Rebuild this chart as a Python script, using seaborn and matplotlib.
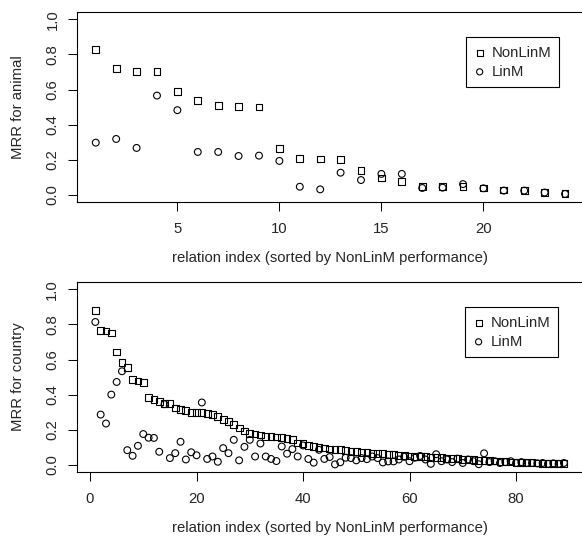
"""
MRR per relation for NonLinM vs LinM, two panels (animal, country).
Mimics the look of an R base-graphics plot.
"""

import matplotlib
matplotlib.use("Agg")
import matplotlib.pyplot as plt
import numpy as np
import pandas as pd
import seaborn as sns

# animal relations (sorted by NonLinM performance)
nonlin_animal = [0.830, 0.718, 0.705, 0.701, 0.589, 0.536, 0.509, 0.503, 0.501, 0.264,
                 0.207, 0.205, 0.203, 0.138, 0.097, 0.076, 0.050, 0.048, 0.050, 0.040,
                 0.028, 0.025, 0.016, 0.008]
lin_animal = [0.298, 0.319, 0.268, 0.566, 0.483, 0.245, 0.245, 0.222, 0.224, 0.194,
              0.047, 0.032, 0.127, 0.085, 0.120, 0.120, 0.040, 0.042, 0.062, 0.038,
              0.025, 0.025, 0.014, 0.006]

# country relations
nonlin_country = [0.880, 0.767, 0.763, 0.751, 0.643, 0.581, 0.554, 0.488, 0.478, 0.468,
                  0.383, 0.374, 0.362, 0.351, 0.349, 0.323, 0.313, 0.307, 0.300, 0.298,
                  0.298, 0.290, 0.285, 0.275, 0.260, 0.247, 0.230, 0.210, 0.192, 0.180,
                  0.175, 0.170, 0.162, 0.161, 0.158, 0.157, 0.150, 0.142, 0.124, 0.120,
                  0.110, 0.104, 0.099, 0.095, 0.090, 0.086, 0.085, 0.081, 0.077, 0.076,
                  0.071, 0.070, 0.066, 0.065, 0.062, 0.058, 0.057, 0.054, 0.052, 0.050,
                  0.049, 0.047, 0.045, 0.043, 0.042, 0.040, 0.037, 0.036, 0.034, 0.031,
                  0.030, 0.028, 0.026, 0.024, 0.022, 0.021, 0.019, 0.018, 0.016, 0.015,
                  0.013, 0.012, 0.011, 0.010, 0.009, 0.008, 0.007, 0.006, 0.005]
lin_country = [0.814, 0.286, 0.235, 0.400, 0.472, 0.533, 0.083, 0.051, 0.108, 0.175,
               0.154, 0.153, 0.074, 0.345, 0.038, 0.066, 0.131, 0.030, 0.071, 0.054,
               0.355, 0.033, 0.047, 0.017, 0.095, 0.066, 0.142, 0.025, 0.102, 0.142,
               0.047, 0.121, 0.047, 0.033, 0.021, 0.104, 0.063, 0.089, 0.047, 0.110,
               0.033, 0.012, 0.085, 0.033, 0.044, 0.002, 0.014, 0.040, 0.038, 0.025,
               0.038, 0.032, 0.047, 0.038, 0.013, 0.019, 0.019, 0.030, 0.045, 0.020,
               0.040, 0.050, 0.030, 0.005, 0.060, 0.020, 0.030, 0.015, 0.035, 0.010,
               0.030, 0.020, 0.003, 0.065, 0.015, 0.020, 0.010, 0.015, 0.020, 0.010,
               0.015, 0.010, 0.010, 0.008, 0.010, 0.005, 0.008, 0.005, 0.010]

y_ticks = [0.0, 0.2, 0.4, 0.6, 0.8, 1.0]
y_tick_labels = ["0.0", "0.2", "0.4", "0.6", "0.8", "1.0"]
x_ticks_animal = [5, 10, 15, 20]
x_ticks_country = [0, 20, 40, 60, 80]
x_label = "relation index (sorted by NonLinM performance)"

sns.set_style("ticks")
plt.rcParams["font.family"] = ["Liberation Sans", "DejaVu Sans"]
FS = 10.7


def r_xlim(n):
    # R's default 4% range expansion
    pad = (n - 1) * 0.04
    return 1 - pad, n + pad


def draw_panel(ax, nonlin, lin, x_ticks, ylabel, xlab_y, ylab_x):
    idx = np.arange(1, len(nonlin) + 1)
    df = pd.DataFrame({"idx": idx, "nonlin": nonlin, "lin": lin})

    common = dict(s=24, facecolor="none", edgecolor="black", linewidth=0.8,
                  ax=ax, zorder=3, clip_on=False)
    sns.scatterplot(data=df, x="idx", y="nonlin", marker="s", label="NonLinM", **common)
    sns.scatterplot(data=df, x="idx", y="lin", marker="o", label="LinM", **common)

    ax.set_xlim(*r_xlim(len(nonlin)))
    ax.set_ylim(-0.04, 1.04)
    ax.set_xticks(x_ticks, labels=[str(t) for t in x_ticks], fontsize=FS)
    ax.set_yticks(y_ticks, labels=y_tick_labels, fontsize=FS, rotation=90, va="center")
    ax.tick_params(axis="both", direction="out", length=6.5, width=0.75, color="black")
    ax.tick_params(axis="x", pad=8)
    ax.tick_params(axis="y", pad=6)

    for sp in ax.spines.values():
        sp.set_visible(True)
        sp.set_color("black")
        sp.set_linewidth(0.8)

    ax.set_xlabel(x_label, fontsize=FS)
    ax.set_ylabel(ylabel, fontsize=FS)
    ax.xaxis.label.set_va("center")
    ax.yaxis.label.set_va("center")
    ax.xaxis.set_label_coords(0.5, xlab_y)
    ax.yaxis.set_label_coords(ylab_x, 0.5)

    leg = ax.legend(loc="upper right", bbox_to_anchor=(0.952, 0.868), borderaxespad=0,
                    fontsize=FS, frameon=True, fancybox=False, borderpad=0.55,
                    handlelength=0.7, handletextpad=0.45, labelspacing=0.35,
                    markerscale=0.9)
    frame = leg.get_frame()
    frame.set_edgecolor("black")
    frame.set_linewidth(0.8)
    frame.set_alpha(1)


fig = plt.figure(figsize=(5.82, 5.41), dpi=100)
ax_top = fig.add_axes([0.1323, 0.6266, 0.8708, 0.3506])
ax_bot = fig.add_axes([0.1316, 0.1280, 0.8696, 0.3501])

draw_panel(ax_top, nonlin_animal, lin_animal, x_ticks_animal,
           "MRR for animal", -0.295, -0.1164)
draw_panel(ax_bot, nonlin_country, lin_country, x_ticks_country,
           "MRR for country", -0.297, -0.1158)

fig.savefig("out.png", dpi=100)
plt.close(fig)
